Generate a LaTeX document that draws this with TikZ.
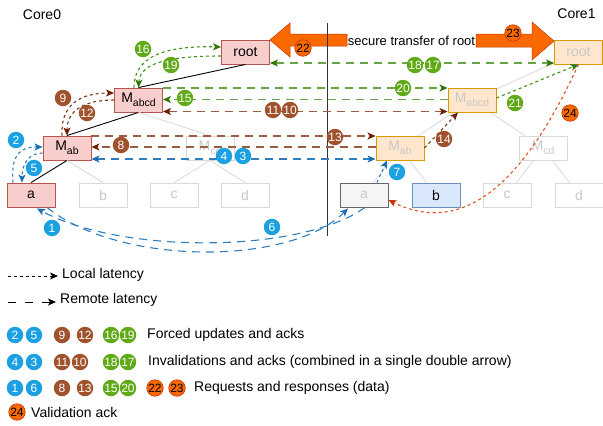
\documentclass[tikz,border=0pt]{standalone}
\usepackage{fontspec}
\setmainfont{Liberation Sans}
\usetikzlibrary{arrows.meta,backgrounds}
\definecolor{pinkF}{HTML}{F8CECC}
\definecolor{pinkD}{HTML}{B85450}
\definecolor{orgF}{HTML}{FFE6CC}
\definecolor{orgD}{HTML}{D79B00}
\definecolor{fadeD}{HTML}{D9D9D9}
\definecolor{fadeT}{HTML}{C8C8C8}
\definecolor{grayF}{HTML}{F5F5F5}
\definecolor{grayD}{HTML}{666666}
\definecolor{bluF}{HTML}{DAE8FC}
\definecolor{bluD}{HTML}{6C8EBF}
\definecolor{bBlue}{HTML}{1BA1E2}
\definecolor{bBrown}{HTML}{A0522D}
\definecolor{bGreen}{HTML}{60A917}
\definecolor{bOrange}{HTML}{FA6800}
\definecolor{oDark}{HTML}{C73500}
\definecolor{lBlue}{HTML}{2E7EBE}
\definecolor{dBlue}{HTML}{1A6FB0}
\definecolor{lBrown}{HTML}{9C5C40}
\definecolor{dBrown}{HTML}{6D1F00}
\definecolor{lGreen}{HTML}{66A444}
\definecolor{dGreen}{HTML}{2D7600}
\definecolor{mGreen}{HTML}{42901C}
\definecolor{mBrown}{HTML}{7A3514}
\definecolor{lRed}{HTML}{E0501A}
\definecolor{treeG}{HTML}{DCDCDC}
\newcommand{\subtx}[1]{\raisebox{-4pt}{\fontsize{10.5}{11}\selectfont #1}}
\tikzset{
 bx/.style={draw, minimum width=48pt, minimum height=24pt, inner sep=0pt, line width=0.9pt, font=\fontsize{14}{16}\selectfont},
 pbx/.style={bx, fill=pinkF, draw=pinkD},
 obx/.style={bx, fill=orgF, draw=orgD, text=fadeT},
 fbx/.style={bx, fill=white, draw=fadeD, text=fadeT},
 remote/.style={line width=1.1pt, dash pattern=on 8pt off 6pt},
 local/.style={line width=1.1pt, dash pattern=on 3pt off 3pt},
 ah/.style={-{Stealth[length=8pt,width=7pt,inset=2pt,color=#1]}},
 ahh/.style={{Stealth[length=8pt,width=7pt,inset=2pt,color=#1]}-{Stealth[length=8pt,width=7pt,inset=2pt,color=#1]}},
 badge/.style={circle, inner sep=0pt, minimum size=16.5pt, font=\fontsize{12}{12}\selectfont, text=white},
 bb/.style={badge, fill=bBlue},
 br/.style={badge, fill=bBrown},
 bg/.style={badge, fill=bGreen},
 bo/.style={badge, fill=bOrange, draw=oDark, line width=0.6pt, text=black},
 lbl/.style={inner sep=0pt, font=\fontsize{14}{16}\selectfont},
 leg/.style={inner sep=0pt, anchor=west, font=\fontsize{14}{16}\selectfont},
 tree/.style={line width=0.9pt, black},
 ftree/.style={line width=0.9pt, treeG},
}
\begin{document}
\begin{tikzpicture}[x=1pt,y=-1pt]
\useasboundingbox (0,0) rectangle (603,426);

% labels
\node[lbl] (core0) at (42,15) {Core0};
\node[lbl] (core1) at (576.5,14) {Core1};

% left tree
\node[pbx] (root0) at (245.5,52) {root};
\node[pbx] (Mabcd0) at (138.5,100) {M\subtx{abcd}};
\node[pbx] (Mab0) at (67,148) {M\subtx{ab}};
\node[fbx] (Mcd0) at (210,148) {M\subtx{cd}};
\node[pbx] (a0) at (31,195) {a};
\node[fbx] (b0) at (103,195) {b};
\node[fbx] (c0) at (174,195) {c};
\node[fbx] (d0) at (245,195) {d};

\draw[tree] (root0.south) -- (Mabcd0.north);
\draw[tree] (Mabcd0.south) -- (Mab0.north);
\draw[tree] (Mab0.south) -- (a0.north);
\draw[ftree] (Mab0.south) -- (b0.north);
\draw[ftree] (Mabcd0.south) -- (Mcd0.north);
\draw[ftree] (Mcd0.south) -- (c0.north);
\draw[ftree] (Mcd0.south) -- (d0.north);

% right tree
\node[obx] (root1) at (578.5,52) {root};
\node[obx] (Mabcd1) at (472,100) {M\subtx{abcd}};
\node[obx] (Mab1) at (400,148) {M\subtx{ab}};
\node[fbx] (Mcd1) at (543,148) {M\subtx{cd}};
\node[bx, fill=grayF, draw=grayD, text=fadeT] (a1) at (364,195) {a};
\node[bx, fill=bluF, draw=bluD] (b1) at (436,195) {b};
\node[fbx] (c1) at (507,195) {c};
\node[fbx] (d1) at (579,195) {d};

\begin{pgfonlayer}{background}
\draw[ftree] (root1.center) -- (Mabcd1.center);
\draw[ftree] (Mabcd1.center) -- (Mab1.center);
\draw[ftree] (Mabcd1.center) -- (Mcd1.center);
\draw[ftree] (Mab1.center) -- (a1.center);
\draw[ftree] (Mab1.center) -- (b1.center);
\draw[ftree] (Mcd1.center) -- (c1.center);
\draw[ftree] (Mcd1.center) -- (d1.center);
\end{pgfonlayer}

% big orange arrows
\node[inner sep=0pt, font=\fontsize{13}{15}\selectfont] (sec) at (411.5,41) {secure transfer of root};
\filldraw[fill=bOrange, draw=oDark, line width=0.5pt]
  (270,40) -- (290,23) -- (290,34) -- (347,34) -- (347,46) -- (290,46) -- (290,57) -- cycle;
\filldraw[fill=bOrange, draw=oDark, line width=0.5pt]
  (476,34) -- (532,34) -- (532,22) -- (554,41) -- (532,60) -- (532,47) -- (476,47) -- cycle;

% separator
\coordinate (vtop) at (327,23);
\coordinate (vbot) at (327,236);
\draw[line width=1pt, black!80] (vtop) -- (vbot);

% remote horizontal connectors
\draw[remote, lGreen, ahh=dGreen] ([yshift=-11pt]root0.east) -- ([yshift=-11pt]root1.west);
\draw[remote, lGreen, ah=dGreen] ([yshift=12pt]Mabcd0.east) -- ([yshift=12pt]Mabcd1.west);
\draw[remote, lGreen, ah=dGreen] ([yshift=0.5pt]Mabcd1.west) -- ([yshift=0.5pt]Mabcd0.east);
\draw[remote, lBrown, ahh=dBrown] ([yshift=-11.5pt]Mabcd0.east) -- ([yshift=-11.5pt]Mabcd1.west);
\draw[remote, lBrown, ah=dBrown] ([yshift=12pt]Mab0.east) -- ([yshift=12pt]Mab1.west);
\draw[remote, lBrown, ah=dBrown] ([yshift=1pt]Mab1.west) -- ([yshift=1pt]Mab0.east);
\draw[remote, lBlue, ahh=dBlue] ([yshift=-11pt]Mab0.east) -- ([yshift=-11pt]Mab1.west);

% remote curves between a nodes
\draw[remote, lBlue, ah=dBlue] ([xshift=1pt]a1.south) .. controls (300,254) and (120,254) .. ([xshift=6pt,yshift=-1pt]a0.south);
\draw[remote, lBlue, ah=dBlue] ([xshift=16pt]a0.south) .. controls (120,266) and (290,266) .. ([xshift=-16pt,yshift=-1pt]a1.south);

% local connectors left
\draw[local, mGreen, ah=dGreen] ([xshift=-4.5pt]Mabcd0.north) .. controls (134,50) and (180,46) .. ([yshift=5pt]root0.west);
\draw[local, mGreen, ah=dGreen] ([yshift=-4pt]root0.west) .. controls (172,56) and (140,62) .. (Mabcd0.north);
\draw[local, mBrown, ah=dBrown] ([xshift=-5pt]Mab0.north) .. controls (60,98) and (90,93) .. ([yshift=7pt]Mabcd0.west);
\draw[local, mBrown, ah=dBrown] (Mabcd0.west) .. controls (85,100) and (67,110) .. (Mab0.north);
\draw[local, lBlue, ah=dBlue] ([xshift=-18pt]a0.north) .. controls (10,150) and (25,147) .. ([yshift=1pt]Mab0.west);
\draw[local, lBlue, ah=dBlue] ([yshift=-5pt]Mab0.west) .. controls (28,153) and (22,165) .. ([xshift=-9pt]a0.north);

% local connectors right
\draw[local, lBlue, ah=dBlue] ([xshift=13pt]a1.north) -- ([xshift=-13pt]Mab1.south);
\draw[local, mBrown, ah=dBrown] (Mab1.east) -- ([xshift=-14pt]Mabcd1.south);
\draw[local, mGreen, ah=dGreen] ([yshift=2pt]Mabcd1.east) -- (root1.south);
\draw[local, lRed, ah=oDark] (root1.south) .. controls (530,170) and (470,240) .. ([yshift=-5pt]a1.east);

% badges in diagram
\node[bg] (n16) at (143,49) {16};
\node[bg] (n19) at (171,65) {19};
\node[br] (n9) at (63,98) {9};
\node[br] (n12) at (87,113) {12};
\node[bb] (n2) at (16,140) {2};
\node[bb] (n5) at (34,168) {5};
\node[br] (n8) at (121,145) {8};
\node[bg] (n15) at (185,98) {15};
\node[br] (n11) at (273,110) {11};
\node[br] (n10) at (290,110) {10};
\node[bb] (n4) at (224,156) {4};
\node[bb] (n3) at (243,156) {3};
\node[br] (n13) at (335,137) {13};
\node[br] (n14) at (444,139) {14};
\node[bb] (n7) at (397,172) {7};
\node[bg] (n20) at (403,88) {20};
\node[bg] (n18) at (415,65) {18};
\node[bg] (n17) at (433,65) {17};
\node[bg] (n21) at (515,103) {21};
\node[bo] (n24) at (570,113) {24};
\node[bo] (n22) at (303,48) {22};
\node[bo] (n23) at (513,33) {23};
\node[bb] (n1) at (52,228) {1};
\node[bb] (n6) at (272,227) {6};

% legend
\coordinate (l1a) at (8,276);
\coordinate (l1b) at (58,276);
\draw[line width=0.9pt, dash pattern=on 3pt off 3pt, -{Stealth[length=8pt,width=7pt,inset=2pt]}] (l1a) -- (l1b);
\node[leg] (t1) at (62,275) {Local latency};
\coordinate (l2a) at (8,302);
\coordinate (l2b) at (56,302);
\draw[line width=0.9pt, dash pattern=on 8pt off 9pt, -{Stealth[length=8pt,width=7pt,inset=2pt]}] (l2a) -- (l2b);
\node[leg] (t2) at (60,300) {Remote latency};

\node[bb] (g2) at (15,335) {2};
\node[bb] (g5) at (34,335) {5};
\node[br] (g9) at (62,335) {9};
\node[br] (g12) at (85,335) {12};
\node[bg] (g16) at (111,335) {16};
\node[bg] (g19) at (128,335) {19};
\node[leg] (t3) at (147,335) {Forced updates and acks};

\node[bb] (g4) at (15,362) {4};
\node[bb] (g3) at (34,362) {3};
\node[br] (g11) at (62,362) {11};
\node[br] (g10) at (80,362) {10};
\node[bg] (g18) at (111,362) {18};
\node[bg] (g17) at (128,362) {17};
\node[leg] (t4) at (148,362) {Invalidations and acks (combined in a single double arrow)};

\node[bb] (g1) at (15,388) {1};
\node[bb] (g6) at (34,388) {6};
\node[br] (g8) at (62,388) {8};
\node[br] (g13) at (85,388) {13};
\node[bg] (g15) at (111,388) {15};
\node[bg] (g20) at (128,388) {20};
\node[bo] (g22) at (155,388) {22};
\node[bo] (g23) at (177,388) {23};
\node[leg] (t5) at (194,388) {Requests and responses (data)};

\node[bo] (g24) at (17,412) {24};
\node[leg] (t6) at (31,412) {Validation ack};
\end{tikzpicture}
\end{document}
